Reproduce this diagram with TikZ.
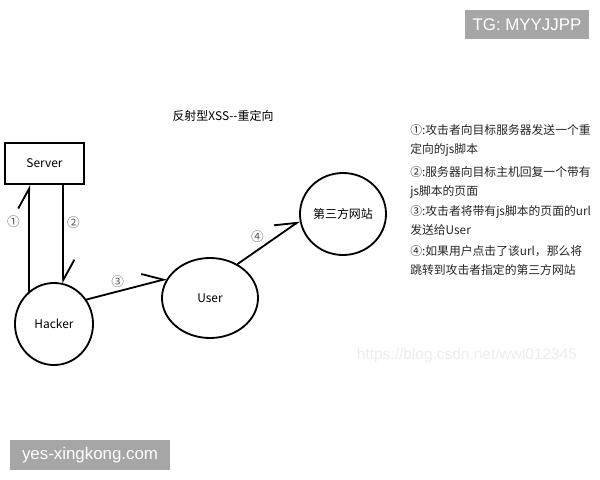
\documentclass[tikz,border=0pt]{standalone}
\usepackage{fontspec}
\setmainfont{Noto Sans CJK SC}
\newfontfamily\wmfont{Liberation Sans}
\usetikzlibrary{shapes.geometric, arrows.meta}
\definecolor{tgGrau}{HTML}{A6A6A6}
\definecolor{nrGrau}{HTML}{5A5A5A}

\begin{document}
\begin{tikzpicture}[x=0.025cm, y=-0.025cm,
  kreis/.style={ellipse, draw, line width=1.3pt, inner sep=0pt, font=\fontsize{8.5}{10}\selectfont},
  pfeil/.style={line width=1.3pt, line cap=round, -{Straight Barb[harpoon, length=5mm, width=5.5mm, line width=1.3pt]}},
  nummer/.style={font=\fontsize{9}{10}\selectfont, text=nrGrau, inner sep=1pt},
  info/.style={anchor=north west, align=left, inner sep=0pt, font=\fontsize{8.4}{13.6}\selectfont, text=black!85},
  marke/.style={fill=tgGrau, text=white, inner sep=0pt, font=\wmfont\fontsize{12}{14}\selectfont}]
\fill[white] (0,0) rectangle (600,480);
\useasboundingbox (0,0) rectangle (600,480);

% Wasserzeichen
\node[marke, minimum width=3.1cm, minimum height=0.725cm] (tg) at (527,24.5) {TG: MYYJJPP};
\node[marke, minimum width=4cm, minimum height=0.75cm] (yes) at (90,455) {yes-xingkong.com};
\node[text=black!7, font=\wmfont\fontsize{11}{13}\selectfont] (csdn) at (467,355) {https://blog.csdn.net/wwl012345};

% Titel
\node[font=\fontsize{8.5}{10}\selectfont] (titel) at (223,116) {反射型XSS-\kern0pt-重定向};

% Knoten
\node[draw, line width=1.3pt, minimum width=1.975cm, minimum height=1.025cm, font=\fontsize{8.5}{10}\selectfont] (server) at (44.5,163.5) {Server};
\node[kreis, minimum width=1.95cm, minimum height=2.05cm] (hacker) at (54,324) {Hacker};
\node[kreis, minimum width=2.4cm, minimum height=2cm] (user) at (210,298) {User};
\node[kreis, minimum width=2.15cm, minimum height=2.05cm] (site) at (343,214) {第三方网站};

% Pfeile
\draw[pfeil] (hacker.127) -- (hacker.127 |- server.south) node[nummer, pos=0.65, left=5pt] {①}; % Schritt 1
\draw[pfeil] (hacker.77 |- server.south) -- (hacker.77) node[nummer, pos=0.38, right=1pt] {②}; % Schritt 2
\draw[pfeil] (hacker.37) -- (user.156) node[nummer, pos=0.39, above=1pt] {③}; % Schritt 3
\draw[pfeil] (user.51) -- (site.189) node[nummer, pos=0.32, above=3.5pt] {④}; % Schritt 4

% Beschreibung
\node[info] (info1) at (410,124) {①:攻击者向目标服务器发送一个重\\定向的js脚本};
\node[info] (info2) at (410,166) {②:服务器向目标主机回复一个带有\\js脚本的页面};
\node[info] (info3) at (410,205) {③:攻击者将带有js脚本的页面的url\\发送给User};
\node[info] (info4) at (410,245) {④:如果用户点击了该url，那么将\\跳转到攻击者指定的第三方网站};

\end{tikzpicture}
\end{document}
